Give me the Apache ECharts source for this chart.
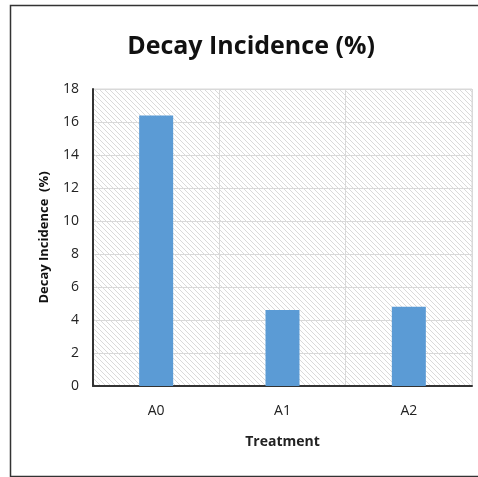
<!DOCTYPE html>
<html>
<head>
<meta charset="utf-8">
<script src="https://cdn.jsdelivr.net/npm/echarts@6/dist/echarts.min.js"></script>
<style>
  html, body { margin: 0; padding: 0; background: #fff; }
  #chart { width: 478px; height: 477px; }
</style>
</head>
<body>
<div id="chart"></div>
<script>
// Decay incidence per treatment
const categories = ['A0', 'A1', 'A2'];
const decayIncidence = [16.4, 4.6, 4.8];
const yTicks = { min: 0, max: 18, interval: 2 };

// Light diagonal hatch used as the plot-area fill
function hatchPattern() {
  const c = document.createElement('canvas');
  c.width = 5; c.height = 5;
  const ctx = c.getContext('2d');
  ctx.fillStyle = '#ffffff';
  ctx.fillRect(0, 0, 5, 5);
  ctx.strokeStyle = '#d6d6d6';
  ctx.lineWidth = 0.9;
  ctx.beginPath();
  ctx.moveTo(-1, -1); ctx.lineTo(6, 6);
  ctx.moveTo(-1, 4); ctx.lineTo(1, 6);
  ctx.moveTo(4, -1); ctx.lineTo(6, 1);
  ctx.stroke();
  return c;
}

const chart = echarts.init(document.getElementById('chart'), null, { renderer: 'canvas' });

chart.setOption({
  animation: false,
  backgroundColor: '#ffffff',
  graphic: [{
    type: 'rect',
    shape: { x: 10.5, y: 5.5, width: 480, height: 471 },
    style: { fill: 'none', stroke: '#333', lineWidth: 1.5 },
    silent: true, z: 100
  }],
  title: {
    text: 'Decay Incidence (%)',
    left: 246, top: 29,
    textAlign: 'center',
    textStyle: { fontFamily: 'Open Sans', fontWeight: 'bold', fontSize: 25, color: '#111' }
  },
  grid: {
    left: 93, top: 89, right: 6, bottom: 91,
    show: true,
    backgroundColor: { image: hatchPattern(), repeat: 'repeat' },
    borderColor: '#d9d9d9', borderWidth: 1
  },
  xAxis: {
    type: 'category',
    data: categories,
    name: 'Treatment',
    nameLocation: 'middle',
    nameGap: 49,
    nameTextStyle: { fontFamily: 'Open Sans', fontWeight: 'bold', fontSize: 14, color: '#222' },
    axisLine: { lineStyle: { color: '#333', width: 2 } },
    axisTick: { show: false },
    axisLabel: { fontFamily: 'Open Sans', fontSize: 14, color: '#222', margin: 18 },
    splitLine: { show: true, interval: 0, lineStyle: { color: '#d9d9d9', width: 1 } }
  },
  yAxis: {
    type: 'value',
    min: yTicks.min, max: yTicks.max, interval: yTicks.interval,
    name: 'Decay Incidence  (%)',
    nameLocation: 'middle',
    nameGap: 42,
    nameTextStyle: { fontFamily: 'Open Sans', fontWeight: 'bold', fontSize: 13, color: '#111' },
    axisLine: { show: true, lineStyle: { color: '#333', width: 2 } },
    axisTick: { show: false },
    axisLabel: { fontFamily: 'Open Sans', fontSize: 14, color: '#222', margin: 14 },
    splitLine: { show: true, lineStyle: { color: '#d9d9d9', width: 1 } }
  },
  series: [{
    type: 'bar',
    data: decayIncidence,
    barWidth: 34,
    itemStyle: { color: '#5b9bd5' }
  }]
});
</script>
</body>
</html>
